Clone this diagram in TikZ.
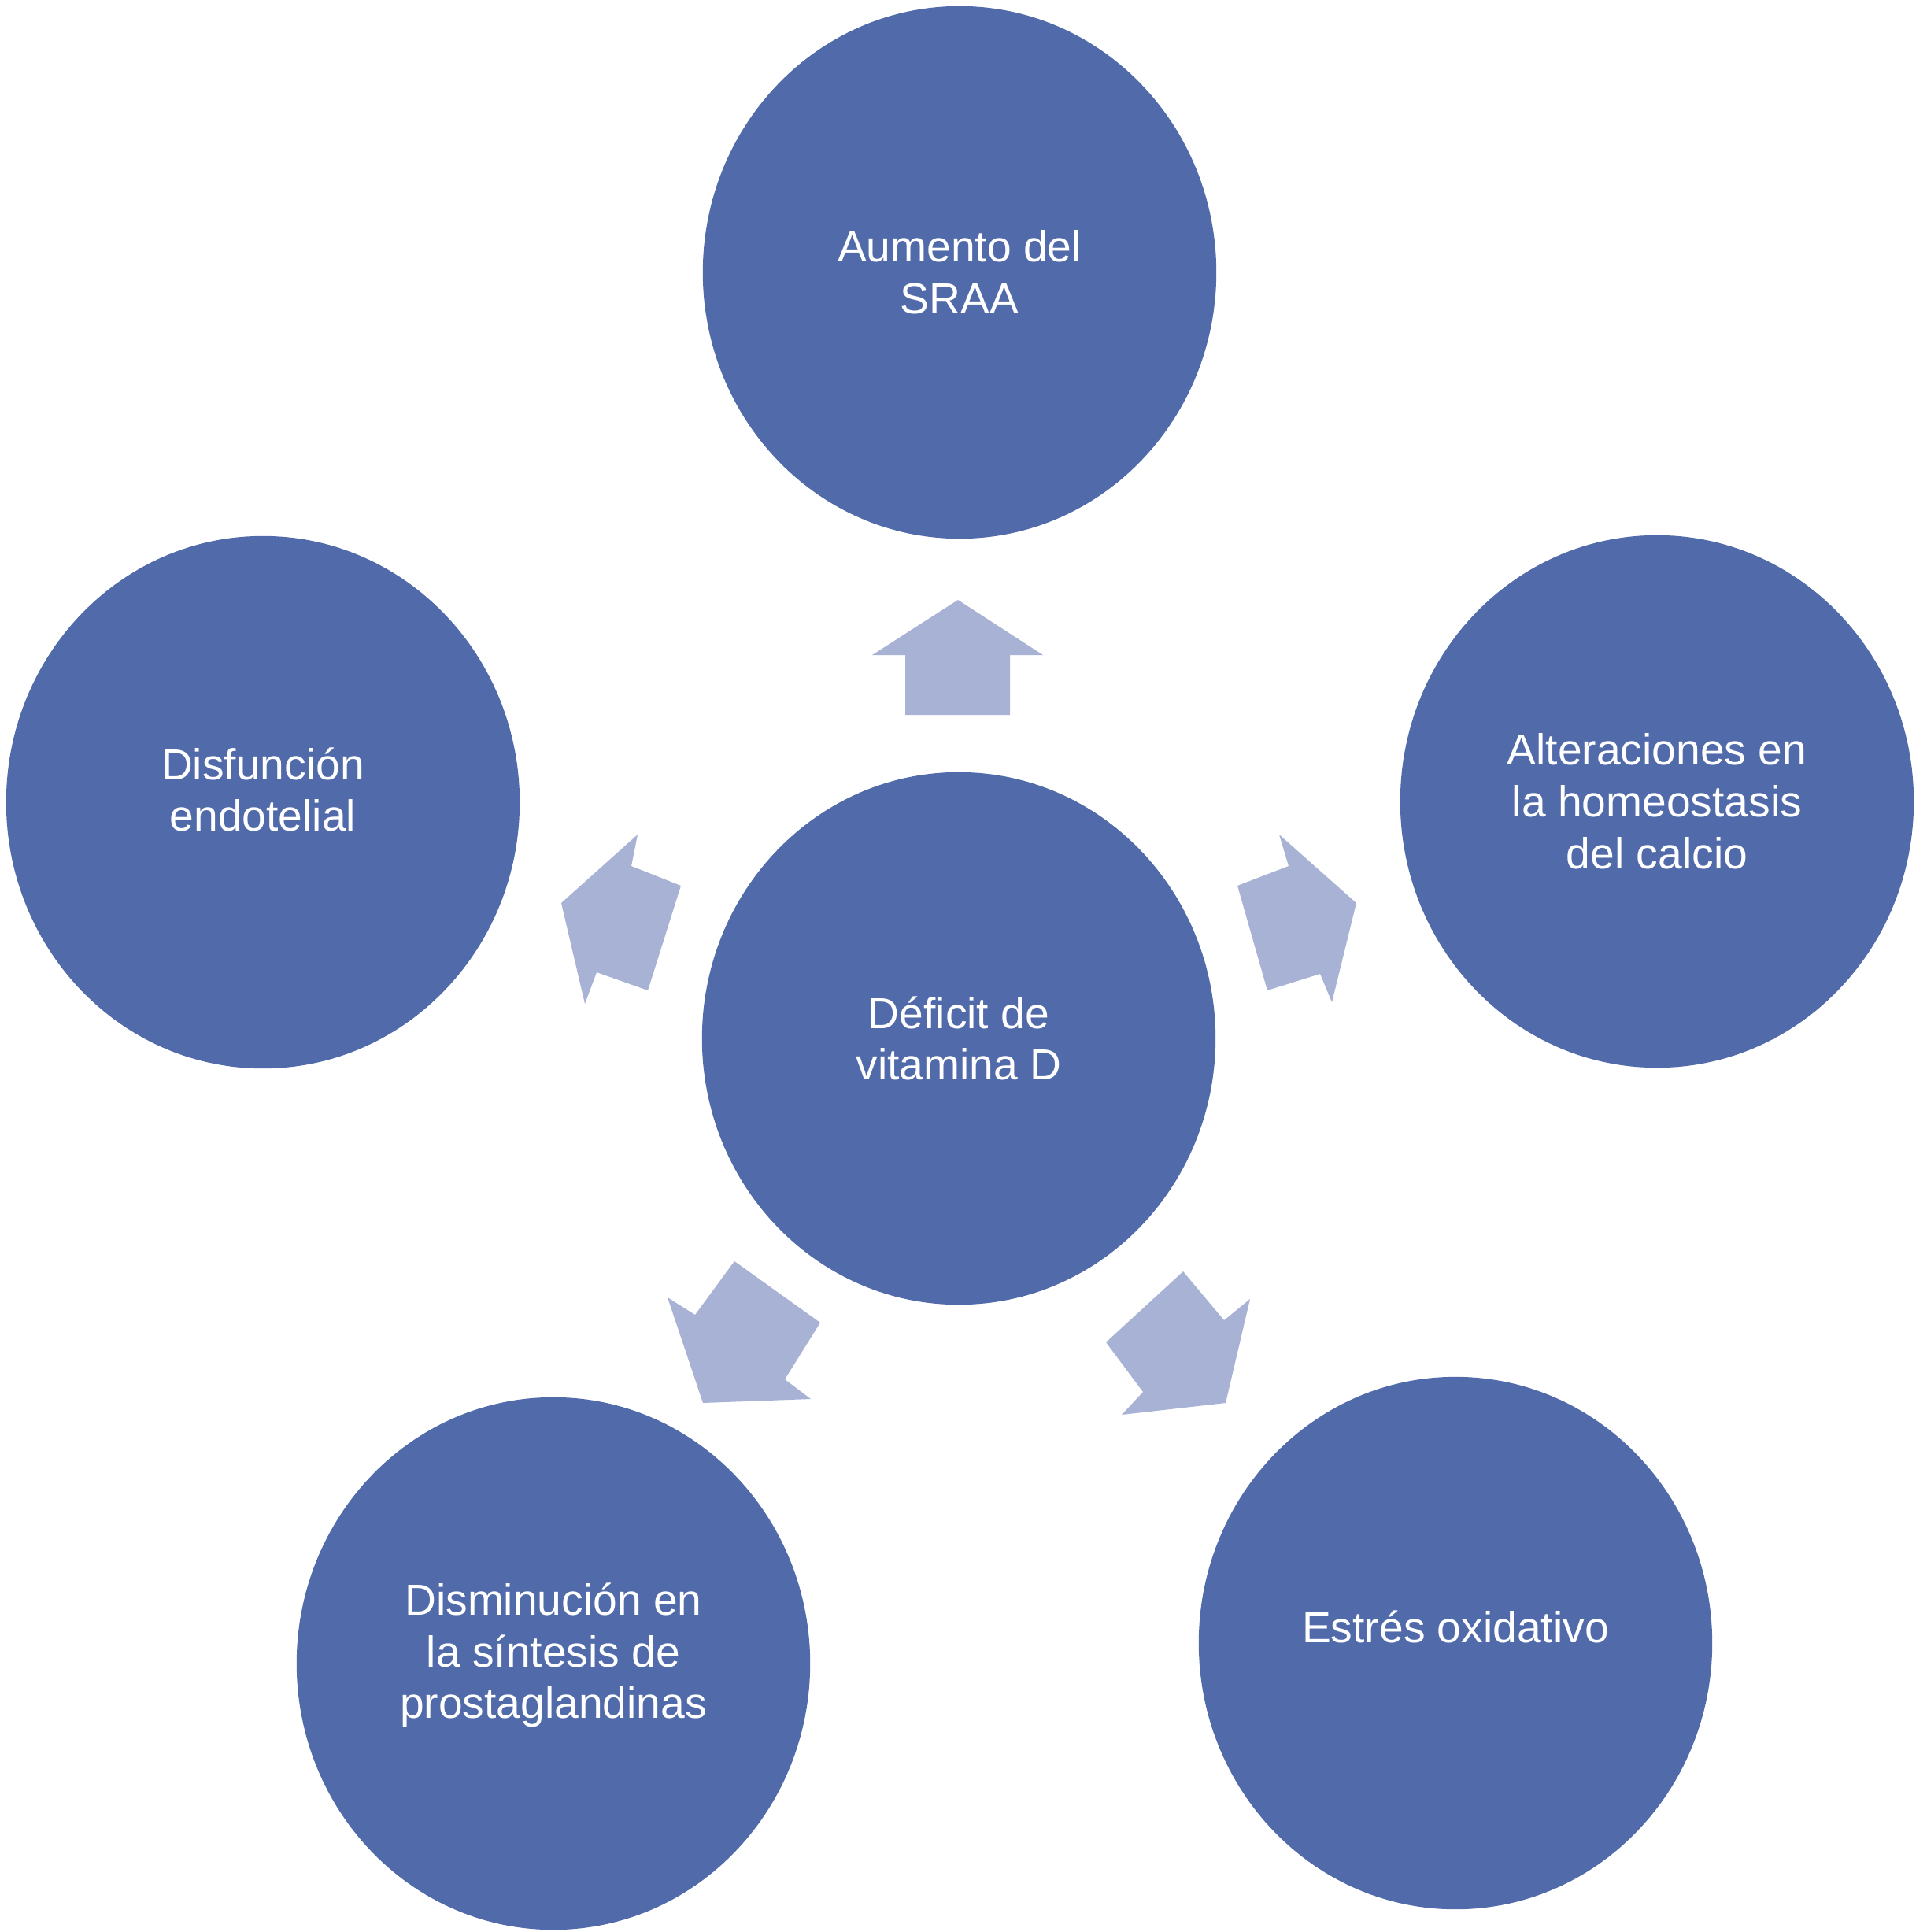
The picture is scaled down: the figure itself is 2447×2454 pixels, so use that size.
\documentclass[tikz,border=0pt]{standalone}
\usepackage{fontspec}
\setmainfont{Liberation Sans}
\usetikzlibrary{shapes.geometric}
\definecolor{circulo}{RGB}{81,106,170}
\definecolor{flechaazul}{RGB}{168,178,213}
\tikzset{
  causa/.style={ellipse, fill=circulo, draw=none, minimum width=6.52cm, minimum height=6.76cm,
                inner sep=0pt, text=white, align=center, font=\fontsize{15.7}{18.7}\selectfont},
  flecha/.style={fill=flechaazul, draw=none}
}
\begin{document}
\begin{tikzpicture}[x=0.01cm, y=-0.01cm] % 1 单位 = 1 像素
  % 画布范围
  \useasboundingbox (0,0) rectangle (2447,2454);
  % 中心圆
  \node[causa] (deficit) at (1218,1319) {Déficit de\\vitamina D};
  % 周围五个圆
  \node[causa] (sraa) at (1219,346) {Aumento del\\SRAA};
  \node[causa] (calcio) at (2105,1018) {Alteraciones en\\la homeostasis\\del calcio};
  \node[causa] (endotelio) at (334,1019) {Disfunción\\endotelial\\[-0.6em]\mbox{}};
  \node[causa] (prosta) at (703,2113) {Disminución en\\la síntesis de\\prostaglandinas\\[-0.6em]\mbox{}};
  \node[causa] (estres) at (1849,2087) {Estrés oxidativo\\[-0.45em]\mbox{}};
  % 向上的箭头
  \fill[flecha] (1217,762) -- (1325,832) -- (1283,832) -- (1283,908)
    -- (1150,908) -- (1150,832) -- (1108,832) -- cycle;
  % 向右的箭头
  \fill[flecha] (1723,1147) -- (1692,1273) -- (1677,1237) -- (1610,1258)
    -- (1572,1125) -- (1637,1100) -- (1625,1060) -- cycle;
  % 向左的箭头
  \fill[flecha] (713,1147) -- (743,1275) -- (758,1235) -- (823,1258)
    -- (865,1125) -- (802,1100) -- (810,1060) -- cycle;
  % 左下的箭头
  \fill[flecha] (893,1782) -- (848,1648) -- (883,1670) -- (933,1602)
    -- (1042,1680) -- (997,1752) -- (1030,1777) -- cycle;
  % 右下的箭头
  \fill[flecha] (1557,1782) -- (1588,1650) -- (1555,1677) -- (1503,1615)
    -- (1405,1705) -- (1452,1768) -- (1425,1797) -- cycle;
\end{tikzpicture}
\end{document}
